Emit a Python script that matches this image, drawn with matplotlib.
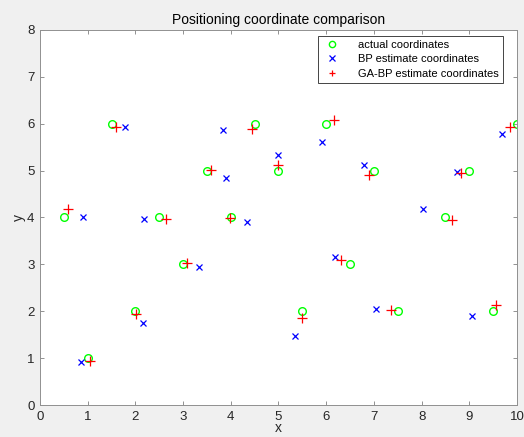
import matplotlib.pyplot as plt
import numpy as np

# actual node coordinates
act_x = [0.5, 1.0, 1.5, 2.0, 2.5, 3.0, 3.5, 4.0, 4.5, 5.0, 5.5, 6.0, 6.5, 7.0, 7.5, 8.5, 9.0, 9.5, 10.0]
act_y = [4.0, 1.0, 6.0, 2.0, 4.0, 3.0, 5.0, 4.0, 6.0, 5.0, 2.0, 6.0, 3.0, 5.0, 2.0, 4.0, 5.0, 2.0, 6.0]

# BP network estimates
bp_x = [0.90, 0.86, 1.79, 2.18, 2.17, 3.33, 3.83, 3.90, 4.33, 5.00, 5.35, 5.91, 6.19, 6.80, 7.05, 8.02, 8.74, 9.05, 9.69]
bp_y = [4.00, 0.92, 5.92, 3.96, 1.75, 2.94, 5.87, 4.85, 3.91, 5.33, 1.48, 5.61, 3.16, 5.13, 2.05, 4.18, 4.97, 1.90, 5.78]

# GA-optimised BP estimates
ga_x = [0.59, 1.05, 1.59, 2.01, 2.64, 3.09, 3.58, 3.98, 4.45, 5.00, 5.49, 6.16, 6.32, 6.90, 7.35, 8.63, 8.83, 9.57, 9.85]
ga_y = [4.18, 0.94, 5.92, 1.95, 3.97, 3.03, 5.02, 3.98, 5.88, 5.11, 1.86, 6.08, 3.09, 4.90, 2.03, 3.94, 4.95, 2.13, 5.94]

plt.rcParams['font.family'] = ['Liberation Sans', 'DejaVu Sans']

fig = plt.figure(figsize=(5.24, 4.37), dpi=100)
fig.patch.set_facecolor('#f0f0f0')
ax = fig.add_axes([0.0763, 0.0732, 0.9103, 0.8582])
ax.set_facecolor('white')

ax.plot(act_x, act_y, 'o', color=(0, 1, 0), mfc='none', ms=5.5, mew=1.0, label='actual coordinates')
ax.plot(bp_x, bp_y, 'x', color=(0, 0, 1), ms=4.5, mew=0.9, label='BP estimate coordinates')
ax.plot(ga_x, ga_y, '+', color=(1, 0, 0), ms=6.5, mew=0.9, label='GA-BP estimate coordinates')

ax.set_xlim(0, 10)
ax.set_ylim(0, 8)
ax.set_xticks(np.arange(0, 11, 1))
ax.set_yticks(np.arange(0, 9, 1))
ax.tick_params(direction='in', length=3, width=0.6, labelsize=9.5, color='#808080',
               labelcolor='#262626', top=True, right=True, pad=4)
for s in ax.spines.values():
    s.set_color('#909090')
    s.set_linewidth(0.7)

ax.set_title('Positioning coordinate comparison', fontsize=10, color='black', pad=4)
ax.set_xlabel('x', fontsize=10, color='#262626', labelpad=-1)
ax.set_ylabel('y', fontsize=10, color='#262626', labelpad=1)

leg = ax.legend(loc='upper right', bbox_to_anchor=(0.975, 0.99), fontsize=8, fancybox=False,
                framealpha=1, edgecolor='#262626', handletextpad=1.5, borderpad=0.35,
                labelspacing=0.4, handlelength=1.8, borderaxespad=0.2)
leg.get_frame().set_linewidth(0.6)
for h in leg.legend_handles:
    h.set_markersize(4.5)

plt.savefig('out.png', dpi=100, facecolor=fig.get_facecolor())
